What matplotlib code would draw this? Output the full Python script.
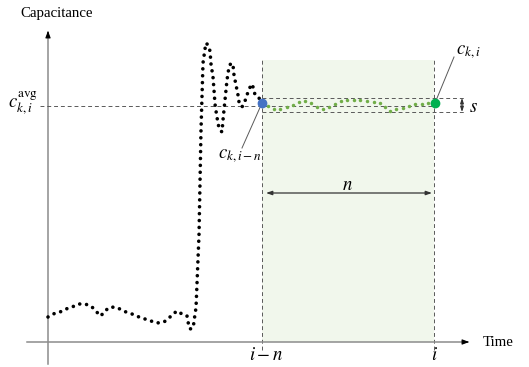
import matplotlib
matplotlib.use('Agg')
import numpy as np
import matplotlib.pyplot as plt

plt.rcParams['font.family'] = ['Liberation Serif', 'DejaVu Serif']
plt.rcParams['mathtext.fontset'] = 'stix'

# capacitance trace before the window (time, value)
time_pre = [0, 5, 12, 18, 24, 31, 37, 43, 48, 52, 56, 60, 66, 72, 78, 84, 91, 97,
            103, 109, 116, 121, 126, 130, 135, 139, 140, 142, 145, 146, 147, 148,
            151, 153, 155, 157, 158, 160, 162, 163, 165, 166, 167, 168, 169, 170,
            172, 174, 175, 177, 179, 181, 183, 185, 186, 188, 190, 191, 194, 197,
            201, 204, 206, 207, 211, 214]
cap_pre = [25, 28, 30, 33, 35, 38, 38, 36, 31, 26, 29, 34, 35, 33, 30, 28, 25, 23,
           21, 19, 20, 24, 29, 31, 27, 26, 20, 13, 14, 20, 28, 34,
           107, 212, 279, 293, 299, 297, 291, 278, 265, 252, 238, 231, 225, 218,
           212, 210, 222, 242, 262, 275, 279, 277, 267, 257, 247, 240, 235, 241,
           253, 258, 252, 247, 244, 239]

# capacitance samples inside the window i-n .. i
time_win = [214, 220, 226, 232, 239, 245, 251, 257, 263, 269, 275, 281, 287, 293,
            299, 306, 312, 319, 326, 332, 337, 342, 348, 355, 361, 367, 374, 380, 387]
cap_win = [239, 236, 233, 233, 235, 237, 240, 241, 239, 235, 233, 235, 238, 241,
           242, 242, 242, 241, 240, 239, 235, 231, 233, 234, 236, 238, 238, 239, 239]

t_start, t_end = 214, 386       # i-n and i
c_avg = 236.5
s_low, s_high = 230, 244
window_top = 282

fig = plt.figure(figsize=(5.29, 3.67), dpi=100)
ax = fig.add_axes([0, 0, 1, 1])
ax.set_xlim(-48, 481)
ax.set_ylim(-25, 342)
ax.axis('off')

dash = dict(color='#595959', lw=0.7, linestyle=(0, (4, 3)))

# shaded window
ax.fill_between([t_start, t_end], 0, window_top, color='#f1f7ec', lw=0, zorder=0)
ax.vlines([t_start, t_end], -8, window_top, **dash, zorder=1)

# axes with arrow heads
ax.plot([-21, 420], [0, 0], color='#8c8c8c', lw=1.1, zorder=1)
ax.plot([0, 0], [-22, 310], color='#8c8c8c', lw=1.1, zorder=1)
ax.annotate('', xy=(424, 0), xytext=(414, 0),
            arrowprops=dict(arrowstyle='-|>,head_length=0.4,head_width=0.15', color='black', lw=0.8))
ax.annotate('', xy=(0, 314), xytext=(0, 304),
            arrowprops=dict(arrowstyle='-|>,head_length=0.4,head_width=0.15', color='black', lw=0.8))

# average and s band
ax.hlines(c_avg, -8, t_end, **dash, zorder=1)
ax.hlines([s_low, s_high], t_start, 417, **dash, zorder=1)

# traces
ax.plot(time_pre, cap_pre, color='black', lw=2.6, linestyle=(0, (0.01, 1.9)),
        dash_capstyle='round', zorder=3)
ax.plot(time_win[1:-1], cap_win[1:-1], 'o', color='#70ad47', ms=2.5, mew=0, zorder=3)
ax.plot(time_win[0], cap_win[0], 'o', color='#4472c4', ms=6, zorder=4)
ax.plot(time_win[-1], cap_win[-1], 'o', color='#00b050', ms=6, zorder=4)

# leaders
ax.plot([time_win[0], 194], [cap_win[0], 194], color='#595959', lw=0.7, zorder=2)
ax.plot([time_win[-1], 406], [cap_win[-1], 285], color='#595959', lw=0.7, zorder=2)

# n and s arrows
ax.annotate('', xy=(218, 149), xytext=(384, 149),
            arrowprops=dict(arrowstyle='<|-|>,head_length=0.35,head_width=0.12',
                            color='#333333', lw=0.9, shrinkA=0, shrinkB=0))
ax.annotate('', xy=(414, s_high), xytext=(414, s_low),
            arrowprops=dict(arrowstyle='<|-|>,head_length=0.3,head_width=0.1',
                            color='#333333', lw=0.8, shrinkA=0, shrinkB=0))

# text
ax.text(8.5, 328, 'Capacitance', fontsize=10.7, ha='center', va='center')
ax.text(435, -1, 'Time', fontsize=10.7, ha='left', va='center')
ax.text(-10, 239, r'$c_{k,i}^{\mathrm{avg}}$', fontsize=13.5, ha='right', va='center')
ax.text(192, 186, r'$c_{k,i-n}$', fontsize=13.5, ha='center', va='center')
ax.text(420, 290, r'$c_{k,i}$', fontsize=13.5, ha='center', va='center')
ax.text(299, 157, r'$n$', fontsize=13.5, ha='center', va='center')
ax.text(425, 235, r'$s$', fontsize=13.5, ha='center', va='center')
ax.text(218, -13, r'$i-n$', fontsize=13.5, ha='center', va='center')
ax.text(386, -13, r'$i$', fontsize=13.5, ha='center', va='center')

fig.savefig('out.png', dpi=100)
